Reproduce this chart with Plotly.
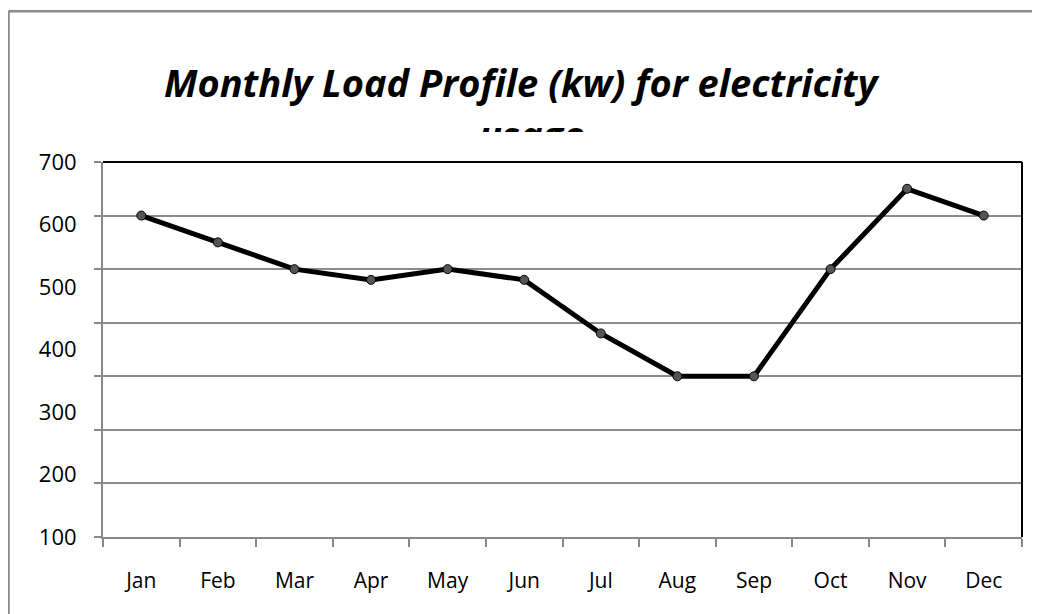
import plotly.graph_objects as go

months = ["Jan", "Feb", "Mar", "Apr", "May", "Jun", "Jul", "Aug", "Sep", "Oct", "Nov", "Dec"]
load_kw = [600, 550, 500, 480, 500, 480, 380, 300, 300, 500, 650, 600]
grid_vals = [0, 100, 200, 300, 400, 500, 600, 700]
label_vals = [100, 200, 300, 400, 500, 600, 700]
label_text = ["100", "200", "300", "400", "500", "600", "700"]
title_line1 = "Monthly Load Profile (kw) for electricity"
title_line2 = "usage"

# page has an 8px body margin; figure coordinates = page coordinates - 8
OFF = 8
W, H = 1032, 606
L, R, T, B = 103 - OFF, 18, 162 - OFF, 77
pw, ph = W - L - R, H - T - B


def px_x(x):
    return (x - OFF - L) / pw


def px_y(y):
    return (H - B - (y - OFF)) / ph


FONT = "Open Sans"

fig = go.Figure()
fig.add_trace(go.Scatter(
    x=months, y=load_kw, mode="lines+markers",
    line=dict(color="black", width=5),
    marker=dict(size=9, color="#555555", line=dict(color="black", width=1)),
    showlegend=False, hoverinfo="x+y",
))
# invisible trace on label axis
fig.add_trace(go.Scatter(x=months[:1], y=[100], yaxis="y2", mode="markers",
                         marker=dict(opacity=0), showlegend=False, hoverinfo="skip"))

fig.update_layout(
    width=W, height=H,
    margin=dict(l=L, r=R, t=T, b=B),
    paper_bgcolor="white", plot_bgcolor="white",
    font=dict(family=FONT, color="black"),
    xaxis=dict(
        type="category", range=[-0.5, 11.5], tickson="boundaries",
        ticks="outside", ticklen=8, tickwidth=1.5, tickcolor="#888888",
        showline=True, linecolor="#888888", linewidth=2,
        showgrid=False, zeroline=False,
        tickfont=dict(family=FONT, size=21, color="black"),
        ticklabelstandoff=24,
    ),
    yaxis=dict(
        range=[0, 700], tickvals=grid_vals, showticklabels=False,
        ticks="outside", ticklen=7, tickwidth=1.5, tickcolor="#888888",
        showline=True, linecolor="#888888", linewidth=2,
        showgrid=True, gridcolor="#8c8c8c", gridwidth=1.5, zeroline=False,
    ),
    yaxis2=dict(
        overlaying="y", side="left", anchor="x", range=[100, 700],
        tickvals=label_vals, ticktext=label_text,
        ticks="outside", ticklen=21, tickcolor="rgba(0,0,0,0)",
        showline=False, showgrid=False, zeroline=False,
        tickfont=dict(family=FONT, size=22, color="black"),
    ),
    shapes=[
        dict(type="line", xref="paper", yref="paper", x0=0, x1=1, y0=1, y1=1,
             line=dict(color="black", width=2)),
        dict(type="line", xref="paper", yref="paper", x0=1, x1=1, y0=0, y1=1,
             line=dict(color="black", width=2)),
        dict(type="line", xref="paper", yref="paper", x0=px_x(8.5), x1=px_x(1050),
             y0=px_y(11.3), y1=px_y(11.3), line=dict(color="#8a8a8a", width=2.5)),
        dict(type="line", xref="paper", yref="paper", x0=px_x(8.5), x1=px_x(8.5),
             y0=px_y(11.3), y1=px_y(630), line=dict(color="#8a8a8a", width=2.5)),
    ],
    annotations=[
        dict(text="<b><i>%s</i></b>" % title_line1, xref="paper", yref="paper",
             x=px_x(522), y=px_y(82), xanchor="center", yanchor="middle",
             showarrow=False, font=dict(family=FONT, size=38, color="black")),
        dict(text="<b><i>%s</i></b>" % title_line2, xref="paper", yref="paper",
             x=px_x(531), y=px_y(134), xanchor="center", yanchor="middle",
             showarrow=False, font=dict(family=FONT, size=38, color="black")),
        dict(text=" ", xref="paper", yref="paper",
             x=px_x(531), y=px_y(131.5), xanchor="center", yanchor="top",
             width=300, height=29, bgcolor="white", borderpad=0, borderwidth=0,
             showarrow=False, font=dict(size=10)),
    ],
)

fig.write_html("out.html")
